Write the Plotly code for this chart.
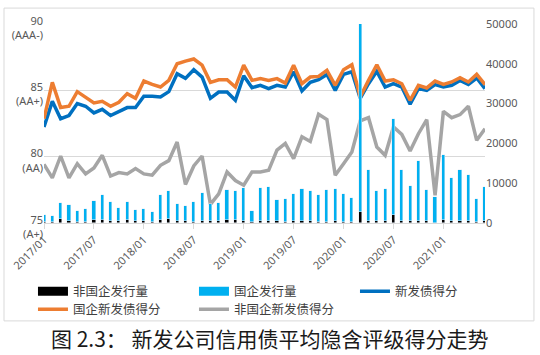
import plotly.graph_objects as go

# ---- data ----
months = [f"{y}/{m:02d}" for y in range(2017, 2022) for m in range(1, 13)][:54]

score_all = [82.24, 84.17, 82.86, 83.1, 84.0, 83.8, 83.3, 83.57, 83.1, 83.4,
             83.7, 83.7, 84.55, 84.55, 84.5, 84.9, 86.25, 85.9, 86.55, 86.0,
             84.4, 84.87, 84.87, 84.25, 86.1, 85.2, 85.38, 85.13, 85.38, 85.25,
             86.4, 84.95, 85.6, 85.8, 86.2, 85.0, 86.2, 86.4, 84.4, 85.5,
             86.43, 85.25, 85.5, 85.25, 83.95, 85.13, 85.0, 85.43, 85.25, 85.38,
             85.75, 85.45, 85.93, 85.13]

score_soe = [82.86, 85.6, 83.7, 83.8, 84.9, 84.5, 84.05, 84.17, 83.8, 84.1,
             84.75, 84.4, 85.7, 85.45, 85.25, 85.75, 87.0, 87.2, 87.36, 86.9,
             85.6, 85.8, 85.8, 85.25, 86.9, 85.75, 85.88, 85.75, 85.88, 85.55,
             86.9, 85.5, 86.0, 86.05, 86.5, 85.38, 86.55, 86.93, 84.5, 85.75,
             86.93, 85.7, 85.8, 85.5, 84.25, 85.38, 85.18, 85.7, 85.45, 85.63,
             85.95, 85.63, 86.2, 85.43]

score_nonsoe = [79.42, 78.4, 80.05, 78.4, 79.47, 78.7, 79.15, 80.1, 78.54, 78.8,
                78.7, 79.1, 78.7, 78.6, 79.35, 79.7, 81.1, 77.9, 79.3, 80.05,
                76.4, 77.2, 78.85, 78.2, 77.85, 78.85, 78.85, 78.97, 80.5, 81.0,
                79.85, 81.5, 81.15, 83.2, 82.8, 78.6, 79.47, 80.35, 82.7, 82.94,
                80.73, 80.1, 82.24, 81.68, 80.43, 81.73, 82.79, 77.09, 83.42, 82.94,
                83.17, 83.8, 81.23, 82.11]

vol_nonsoe = [200, 200, 900, 500, 300, 300, 700, 700, 600, 500,
              700, 400, 400, 300, 700, 900, 500, 400, 300, 400,
              500, 400, 700, 700, 500, 200, 500, 400, 400, 300,
              400, 400, 400, 300, 300, 400, 200, 300, 2800, 500,
              400, 400, 1900, 600, 400, 600, 400, 100, 700, 400,
              500, 500, 200, 400]

vol_soe = [1700, 1500, 4100, 3900, 2600, 3300, 4900, 6250, 4600, 3300,
           4700, 2800, 3000, 2400, 6250, 7050, 4200, 3800, 4900, 7050,
           4200, 4550, 7500, 7250, 8300, 2700, 8200, 8550, 5300, 5650,
           6800, 8050, 7550, 6650, 7900, 8050, 7000, 5900, 52200, 12900,
           7550, 8250, 24300, 12800, 8800, 14900, 7800, 6400, 16300, 10900,
           12900, 11500, 5750, 8550]

left_ticks = [75, 80, 85, 90]
left_ticktext = ["75<br>(A+)", "80<br>(AA)", "85<br>(AA+)", "90<br>(AAA-)"]
right_ticks = [0, 10000, 20000, 30000, 40000, 50000]

C_BLACK = "#000000"
C_SKY = "#00B0F0"
C_BLUE = "#0070C0"
C_ORANGE = "#ED7D31"
C_GRAY = "#A5A5A5"
GRID = "#D9D9D9"
TXT = "#595959"

fig = go.Figure()

# bars (stacked, right axis)
fig.add_trace(go.Bar(x=months, y=vol_nonsoe, yaxis="y2", marker_color=C_BLACK,
                     width=0.38, showlegend=False, name="非国企发行量"))
fig.add_trace(go.Bar(x=months, y=vol_soe, yaxis="y2", marker_color=C_SKY,
                     width=0.38, showlegend=False, name="国企发行量"))

# lines (left axis)
fig.add_trace(go.Scatter(x=months, y=score_nonsoe, mode="lines", name="非国企新发债得分",
                         line=dict(color=C_GRAY, width=3.5), legend="legend2", legendrank=2))
fig.add_trace(go.Scatter(x=months, y=score_all, mode="lines", name="新发债得分",
                         line=dict(color=C_BLUE, width=3.5), legend="legend", legendrank=3))
fig.add_trace(go.Scatter(x=months, y=score_soe, mode="lines", name="国企新发债得分",
                         line=dict(color=C_ORANGE, width=3.5), legend="legend2", legendrank=1))

# legend stand-ins for the bars (wide rectangles)
fig.add_trace(go.Scatter(x=[None], y=[None], mode="lines", name="非国企发行量",
                         line=dict(color=C_BLACK, width=9), legend="legend", legendrank=1))
fig.add_trace(go.Scatter(x=[None], y=[None], mode="lines", name="国企发行量",
                         line=dict(color=C_SKY, width=9), legend="legend", legendrank=2))

leg_common = dict(orientation="h", x=-0.025, xanchor="left", yanchor="top",
                  font=dict(family="Noto Sans CJK SC", size=12.5, color="#404040"),
                  entrywidth=116, entrywidthmode="pixels", itemwidth=30,
                  traceorder="normal", bgcolor="rgba(0,0,0,0)")

fig.update_layout(
    width=540, height=355,
    margin=dict(l=44, r=55, t=24, b=132, autoexpand=False),
    paper_bgcolor="white", plot_bgcolor="white",
    barmode="stack", bargap=0,
    font=dict(family="Noto Sans, Noto Sans CJK SC", size=11, color=TXT),
    xaxis=dict(type="category", range=[0, 53], tickmode="array",
               tickvals=months[::6], ticktext=months[::6], tickangle=-45,
               ticks="outside", ticklen=5, tickcolor=GRID, showline=True,
               linecolor=GRID, linewidth=1, showgrid=False, automargin=False,
               tickfont=dict(size=11, color=TXT)),
    yaxis=dict(range=[75, 90], tickvals=left_ticks, ticktext=left_ticktext,
               showgrid=True, gridcolor=GRID, gridwidth=1, zeroline=False,
               showline=False, automargin=False, ticklabelshift=4,
               tickfont=dict(size=11, color=TXT)),
    yaxis2=dict(range=[0, 50000], tickvals=right_ticks, tickformat="d",
                overlaying="y", side="right", showgrid=False, zeroline=False,
                showline=False, automargin=False, tickfont=dict(size=11, color=TXT)),
    legend=dict(y=-0.27, **leg_common),
    legend2=dict(y=-0.36, **leg_common),
    showlegend=True,
)

# outer chart border
fig.add_shape(type="rect", xref="paper", yref="paper",
              x0=-0.0907, x1=1.111, y0=-0.492, y1=1.080,
              line=dict(color=GRID, width=1), fillcolor="rgba(0,0,0,0)", layer="below")

# caption
fig.add_annotation(text="图 2.3： 新发公司信用债平均隐含评级得分走势",
                   xref="paper", yref="paper", x=0.512, y=-0.578,
                   xanchor="center", yanchor="middle", showarrow=False,
                   font=dict(family="Noto Sans CJK SC", size=21, color="#1a1a1a"))

fig.write_html("out.html", post_script="document.body.style.margin='0';",
               config={"displayModeBar": False})
